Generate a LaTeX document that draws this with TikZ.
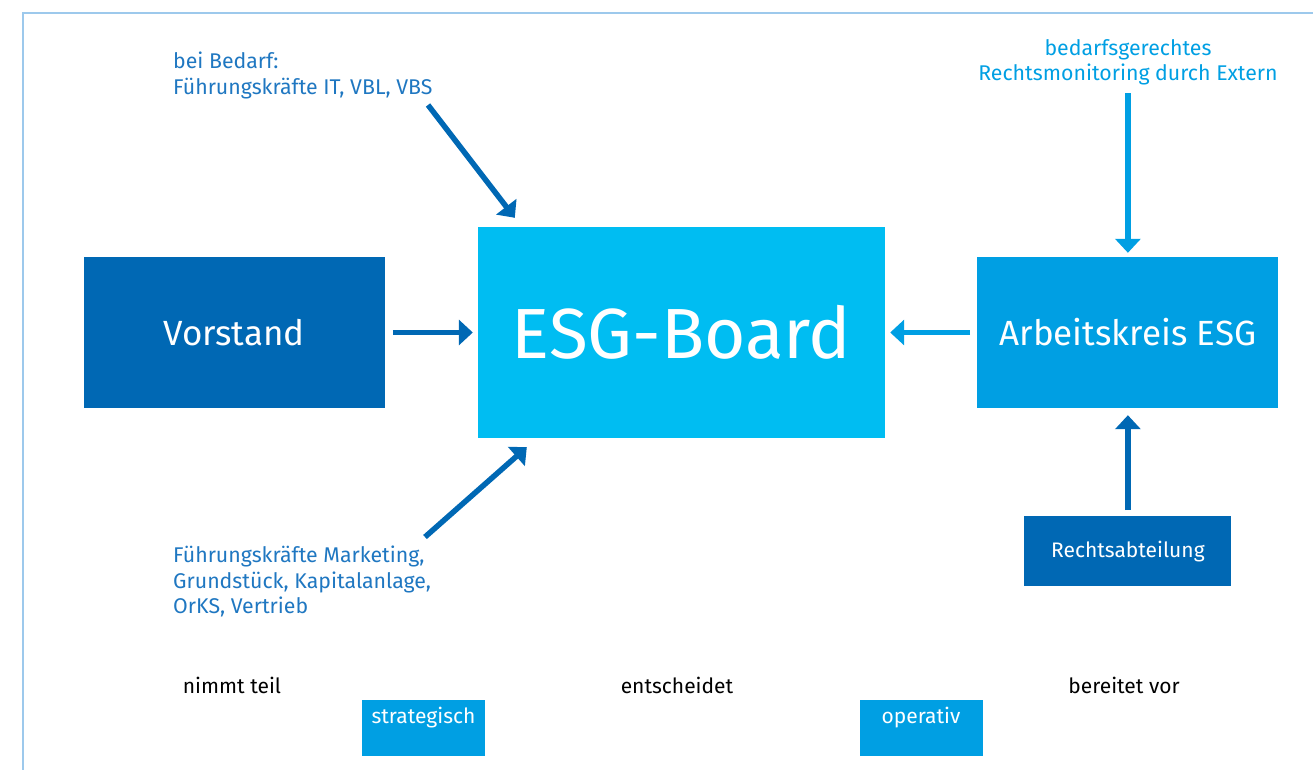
\documentclass[tikz,border=0pt]{standalone}
\usepackage{fontspec}
\setmainfont{Fira Sans}
\usetikzlibrary{positioning, arrows.meta, calc}

\definecolor{darkblue}{HTML}{0068B4}
\definecolor{midblue}{HTML}{009FE3}
\definecolor{cyanblue}{HTML}{00BDF2}
\definecolor{framecol}{HTML}{9DC9EC}
\definecolor{noteblue}{HTML}{1F77C1}

\begin{document}
\begin{tikzpicture}[
    x = 1pt, y = -1pt,
    > = {Triangle[length = 14pt, width = 25pt]},
    box/.style   = {rectangle, inner sep = 0pt, text = white},
    dark/.style  = {box, fill = darkblue},
    board/.style = {box, fill = cyanblue, minimum width = 407pt, minimum height = 211pt,
                    font = \fontsize{71}{80}\selectfont},
    big/.style   = {minimum width = 301pt, minimum height = 151pt, font = \fontsize{35}{42}\selectfont},
    tag/.style   = {box, fill = midblue, minimum width = 123pt, text height = 23pt, text depth = 33pt,
                    font = \fontsize{21}{25}\selectfont},
    note/.style  = {inner sep = 0pt, font = \fontsize{21.3}{25.5}\selectfont},
    role/.style  = {inner sep = 0pt, anchor = base, font = \fontsize{21}{25}\selectfont},
    arrow/.style = {->, line width = 5.5pt}
]
\useasboundingbox (0,0) rectangle (1313,770);

% Frame
\draw[framecol, line width = 1.5pt] (1313,13) -- (23,13) -- (23,770);

% Boxes
\node[board]                         (board)    at (681.5,332.5) {ESG-Board};
\node[dark, big, left = 93pt of board]  (vorstand) {Vorstand};
\node[box, big, fill = midblue, right = 92pt of board] (ak) {Arbeitskreis ESG};
\node[dark, minimum width = 207pt, minimum height = 70pt, below = 108pt of ak,
      font = \fontsize{21}{25}\selectfont] (recht) {Rechtsabteilung};

% Notes
\node[note, anchor = north west, align = left, text = noteblue] (bedarf) at (173,52)
    {bei Bedarf:\\Führungskräfte IT, VBL, VBS};
\node[note, anchor = north, align = center, text = midblue] (extern) at (1128,39)
    {bedarfsgerechtes\\Rechtsmonitoring durch Extern};
\node[note, anchor = north west, align = left, text = noteblue] (fk) at (173,546)
    {Führungskräfte Marketing,\\Grundstück, Kapitalanlage,\\OrKS, Vertrieb};

% Roles
\node[role] (teil)   at (232,693)  {nimmt teil};
\node[role] (entsch) at (677,693)  {entscheidet};
\node[role] (vor)    at (1124,693) {bereitet vor};
\node[tag, anchor = north] (strat) at (423.5,700) {strategisch};
\node[tag, anchor = north] (oper)  at (921,700)   {operativ};

% Arrows
\coordinate (bedarfend) at (428,105);
\coordinate (fkend)     at (425,537);
\draw[arrow, darkblue] (bedarfend) -- ($(board.north west)+(37,-9)$);
\draw[arrow, darkblue] (fkend)     -- ($(board.south west)+(49,9)$);
\draw[arrow, darkblue, shorten < = 8pt, shorten > = 5pt] (vorstand.east) -- (vorstand.east -| board.west);
\draw[arrow, midblue,  shorten < = 7pt, shorten > = 5pt] (ak.west) -- (ak.west -| board.east);
\draw[arrow, midblue,  shorten < = 8pt, shorten > = 4pt] (extern.south -| ak.north) -- (ak.north);
\draw[arrow, darkblue, shorten < = 6pt, shorten > = 7pt] (recht.north) -- (ak.south);

\end{tikzpicture}
\end{document}
